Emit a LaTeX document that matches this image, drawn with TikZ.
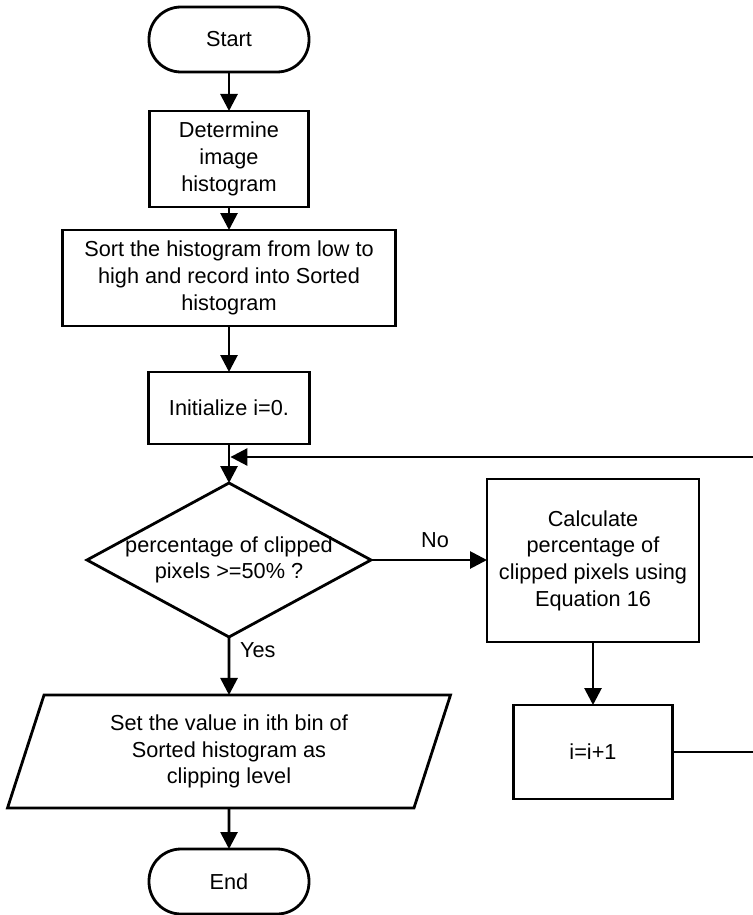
\documentclass[tikz,border=0pt]{standalone}
\usepackage{fontspec}
\setmainfont{Liberation Sans}
\usetikzlibrary{shapes.geometric, arrows.meta}

\begin{document}
\begin{tikzpicture}[x=1pt,y=-1pt,
  every node/.style={font=\fontsize{21.7}{26.7}\selectfont, align=center, inner sep=0pt, outer sep=0pt},
  box/.style={draw, line width=2.8pt, rectangle},
  term/.style={draw, line width=2.8pt, rectangle, rounded corners=32pt, minimum width=160pt, minimum height=65pt},
  decision/.style={draw, line width=2.8pt, diamond, minimum width=284pt, minimum height=154pt},
  io/.style={draw, line width=2.8pt, trapezium, trapezium left angle=63.6, trapezium right angle=116.4, trapezium stretches body, minimum width=443pt, minimum height=113pt},
  conn/.style={line width=2.8pt, -{Triangle[length=17pt,width=17pt]}}
]
\useasboundingbox (0,0) rectangle (752,915);

\node[term] (start) at (229,39.5) {Start};
\node[box, minimum width=159pt, minimum height=96pt] (det) at (229,159) {Determine\\image\\histogram};
\node[box, minimum width=333pt, minimum height=96pt] (sort) at (229,278) {Sort the histogram from low to\\high and record into Sorted\\histogram};
\node[box, minimum width=161pt, minimum height=72pt] (init) at (229,408) {Initialize i=0.};
\node[decision] (dec) at (229,560) {};
\node (dectext) at (dec.center) {percentage of clipped\\pixels >=50\% ?};
\node[box, minimum width=212pt, minimum height=163pt] (calc) at (593,560.5) {Calculate\\percentage of\\clipped pixels using\\Equation 16};
\node[box, minimum width=159pt, minimum height=94pt] (inc) at (593,752) {i=i+1};
\node[io] (set) at (229,751.5) {Set the value in ith bin of\\Sorted histogram as\\clipping level};
\node[term] (end) at (229,881.5) {End};

\node (no) at (435,540) {No};
\node[anchor=west] (yes) at (240,650) {Yes};

\coordinate (rt) at (775,457);
\coordinate (join) at (230.4,457);

\draw[conn] (start) -- (det);
\draw[conn] (det) -- (sort);
\draw[conn] (sort) -- (init);
\draw[conn] (init) -- (dec.north);
\draw[conn] (dec.east) -- (dec.east -| calc.west);
\draw[conn] (calc) -- (inc);
\draw[conn] (dec.south) -- (set.north);
\draw[conn] (set.south) -- (end);
\draw[conn] (inc.east) -- (inc.east -| rt) -- (rt) -- (join);
\end{tikzpicture}
\end{document}
